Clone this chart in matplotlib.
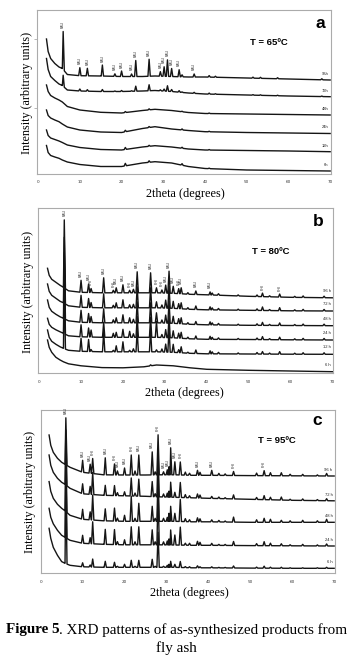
import numpy as np
import matplotlib.pyplot as plt

W, H = 357, 659

# shared x anchors (2theta) where the background of every pattern was read
anchor = [2, 2.4, 3, 4, 5, 5.8, 7, 10, 15, 20, 25, 28, 32, 36, 40, 50, 60, 70]

# ---- panel a, T = 65 C
a_hours = ['96h', '72h', '48h', '24h', '12h', '6h']
a_base = [
    [134.5, 122, 115, 110, 106.5, 105, 99, 97.8, 97.5, 97, 97, 97.5, 97, 96.5, 96.5, 95.5, 94.5, 93.5],
    [115, 104, 97, 93, 89.5, 88, 83.5, 82.5, 82, 82, 82.5, 83, 82, 80.5, 79.5, 78.5, 77.5, 76.8],
    [88.5, 82, 78, 75.5, 73.5, 71.5, 67, 63.5, 61.2, 60.5, 63, 64.2, 63, 61, 60, 59.5, 59, 58.5],
    [63.5, 58, 55.5, 53.5, 51.8, 49.5, 46.5, 43.5, 41.5, 41, 45, 46.8, 44.5, 43, 41.8, 41, 40.5, 40],
    [43.5, 38, 35.5, 34, 32.5, 31, 28.5, 26, 24, 23.5, 26.5, 27.8, 26.5, 24.5, 23.5, 23, 22.5, 21.8],
    [28, 21, 18, 16.5, 15.2, 13.5, 11.5, 9, 7, 7, 10.5, 11.8, 10.5, 7, 5, 3.5, 3, 2.5],
]
a_peaks = [6.0, 10.0, 11.8, 15.4, 18.4, 20.0, 20.9, 22.4, 23.4, 26.6, 29.3, 30.2,
           31.0, 32.0, 33.8, 34.5, 37.4, 41.0, 42.5, 51.5, 53.3, 57.4, 68.0]
a_heights = [
    [38, 8, 7.5, 11, 2.5, 5.5, 0, 2.5, 16, 17, 4.5, 9.5, 16.5, 8, 7, 2, 3, 1.5, 1, 1, 1, 1, 1],
    [11, 2, 1.5, 2, 0.5, 1, 0, 0.5, 5, 6, 1, 2, 5.5, 2, 1.5, 0.5, 1, 1, 0.5, 0.5, 0.5, 0.5, 0.5],
    [0, 0, 0, 0, 0, 0, 1, 0, 0, 1, 0, 0, 0, 0, 0, 0.5, 0, 0.5, 0, 0, 0, 0, 0],
    [0, 0, 0, 0, 0, 0, 1.5, 0, 0, 1, 0, 0, 0, 0, 0, 1, 0, 0.5, 0, 0, 0, 0, 0],
    [0, 0, 0, 0, 0, 0, 2, 0, 0, 1, 0, 0, 0, 0, 0, 1, 0, 0.5, 0, 0, 0, 0, 0],
    [0, 0, 0, 0, 0, 0, 2.5, 0, 0, 1.5, 0, 0, 0, 0, 0, 1.5, 0, 0.5, 0, 0, 0, 0, 0],
]
a_fau = [6.0, 10.0, 11.8, 15.4, 18.4, 20.0, 22.4, 23.4, 26.6, 29.3, 30.2, 31.0, 32.0, 33.8, 37.4]
a_phi = []

# ---- panel b, T = 80 C
b_hours = ['96 h', '72 h', '48 h', '24 h', '12 h', '6 h']
b_base = [
    [105, 98, 94, 91, 88, 86, 82.5, 81, 80.5, 80.5, 80.5, 80.5, 80, 79, 78.5, 77, 76, 75.5],
    [89.3, 82, 78, 75, 72, 70.5, 67.5, 66, 65.5, 65.5, 65.5, 65.5, 65, 64, 63.5, 63, 62.5, 62.3],
    [73.3, 66, 62, 59, 56.5, 55, 52.5, 51, 50.5, 50.5, 50.5, 50.5, 50, 49, 48.5, 48, 47.8, 47.6],
    [55, 49, 46, 43.5, 41.5, 40, 37.5, 36.5, 36, 36, 36, 36, 35.5, 34.5, 34, 33.8, 33.5, 33.3],
    [43.3, 36, 32, 29, 26.5, 25, 23, 22, 21.5, 21.5, 21.5, 21.5, 21, 20, 19.5, 19.3, 19.1, 19],
    [33.3, 26, 21, 16, 13.3, 11.5, 9.5, 7.5, 5.7, 5.5, 6.5, 8.3, 7.5, 5.5, 4, 3, 2.3, 1.6],
]
b_peaks = [6.0, 10.0, 11.8, 12.4, 15.4, 17.7, 18.4, 20.0, 21.6, 22.5, 23.4, 26.6, 28.0, 29.3,
           30.2, 31.0, 32.0, 33.3, 33.9, 35.5, 37.4, 40.8, 41.3, 42.8, 47.5, 52.0, 53.3, 55.0,
           57.4, 61.0, 63.0, 68.0]
b_heights = [
    [68, 12, 8.5, 4, 15, 2.5, 5, 8, 2.5, 3.5, 21, 20, 5, 3, 8, 22, 7, 5, 6, 1.5, 3.5, 3, 2, 1.5, 1, 1.5, 3.5, 1, 3, 1, 1.5, 1.5],
    [66, 12, 9, 5, 14, 2.5, 5, 8, 3, 3.5, 21, 20, 6, 3, 8, 22, 7, 5, 6, 1.5, 3.5, 3, 2, 1.5, 1, 1.5, 3.5, 1, 3, 1, 1.5, 1.5],
    [66, 12, 9, 6, 14, 3, 5, 8, 5, 3.5, 21, 20, 10, 3, 8, 22, 7, 5, 6, 1.5, 3, 3, 2, 1.5, 1, 1.5, 3, 1, 2.5, 1, 1.5, 1.5],
    [68, 12, 9, 7, 15, 4, 5, 8, 6, 3.5, 21, 20, 16, 3, 8, 22, 7, 5, 6, 1.5, 3, 3, 2, 1.5, 1, 1.5, 3, 1, 2.5, 1, 1.5, 1.5],
    [70, 13, 12, 2, 20, 1.5, 6, 10, 1.5, 3, 22, 22, 2, 3, 8, 24, 8, 3, 6, 1, 3.5, 3, 2, 1.5, 1, 1.5, 2.5, 1, 2.5, 1, 1.5, 1.5],
    [0, 0, 0, 0, 0, 0, 0, 0, 0, 0, 0, 1, 0, 0, 0, 0, 0, 0, 0, 0, 0, 0, 0, 0, 0, 0, 0, 0, 0, 0, 0, 0],
]
b_fau = [6.0, 10.0, 11.8, 15.4, 18.4, 20.0, 22.5, 23.4, 26.6, 30.2, 31.0, 32.0, 33.9, 37.4, 40.8]
b_phi = [12.4, 17.7, 21.6, 28.0, 29.3, 33.3, 53.3, 57.4]

# ---- panel c, T = 95 C
c_hours = ['96 h', '72 h', '48 h', '24 h', '6 h']
c_base = [
    [138.3, 128, 121, 115, 111, 109, 106, 101, 98.5, 98.3, 98.3, 98.5, 98.5, 98, 98, 97.7, 97.5, 97.3],
    [118.3, 108, 101, 95, 91, 89, 85, 79.5, 78, 77.5, 77, 76.5, 76, 75.5, 75, 74, 73, 72.5],
    [91.7, 82, 75, 69, 65, 62.5, 58, 54, 52.5, 52, 52, 52, 52, 51.5, 51.5, 51, 51, 51],
    [65, 56, 49.5, 43, 38, 36, 33, 30, 29, 28.5, 28.5, 28.5, 28.3, 28, 28, 27.7, 27.5, 27.3],
    [45, 35, 26, 18, 11.7, 10, 8, 6.5, 6, 6, 6, 6, 6, 5.5, 5.5, 5.2, 5, 5],
]
c_peaks = [6.0, 10.0, 11.8, 12.4, 15.4, 17.6, 18.3, 20.0, 21.6, 22.5, 23.4, 26.6, 27.3, 28.0,
           29.3, 30.2, 30.6, 31.0, 32.0, 33.3, 34.5, 35.5, 37.4, 38.0, 40.8, 42.5, 44.0, 46.0,
           51.5, 53.3, 54.8, 57.4, 59.5, 62.5, 66.0, 68.2]
c_heights = [
    [47, 12, 9, 15, 17, 11, 4, 7, 20, 4, 20, 23, 3, 40, 3, 5, 8, 27, 13, 13, 3, 2, 5, 3, 5, 2, 1.5, 4, 2.5, 5, 3, 3, 1.5, 1.5, 1, 2.5],
    [55, 10, 8, 22, 10, 10, 3, 4, 18, 3, 17, 15, 3, 45, 3, 4, 6, 15, 5, 15, 3, 2, 4, 3, 2, 1.5, 1, 4, 2, 4, 2.5, 3, 1, 1.5, 1, 2],
    [65, 10, 8, 25, 12, 13, 3, 6, 25, 3, 18, 15, 3, 50, 3, 4, 8, 15, 8, 22, 3, 2, 4, 3, 2, 1.5, 1, 5, 2.5, 4, 3, 2, 1.5, 2, 1.5, 3],
    [75, 8, 6, 22, 15, 15, 3, 5, 18, 3, 18, 15, 3, 55, 3, 4, 6, 15, 10, 18, 2, 2, 4, 3, 2, 1, 1, 4, 2, 4, 2.5, 2, 1, 1.5, 1, 2],
    [80, 4, 2, 8, 6, 5, 1, 3, 7, 1, 7, 8, 1, 35, 1, 2, 3, 6, 3, 6, 1, 1, 2, 1, 1, 0.5, 0.5, 2, 1, 2, 1, 1, 0.5, 0.5, 0.5, 1],
]
c_fau = [6.0, 10.0, 11.8, 15.4, 18.3, 20.0, 23.4, 26.6, 29.3, 30.2, 31.0, 32.0, 37.4, 40.8]
c_phi = [12.4, 17.6, 21.6, 28.0, 33.3, 46.0, 53.3]

temps = ['T = 65ºC', 'T = 80ºC', 'T = 95ºC']
letters = ['a', 'b', 'c']

SERIF = ['Liberation Serif', 'DejaVu Serif']
SANS = ['Liberation Sans', 'DejaVu Sans']
FRAME = '#ababab'
INK = '#151515'


def pattern(base, peaks, heights, w=0.28):
    xs = list(anchor)
    for p, h in zip(peaks, heights):
        if h > 0:
            xs += [p - w, p, p + w]
    xs = np.unique(xs)
    ys = np.interp(xs, anchor, base)
    for p, h in zip(peaks, heights):
        if h > 0:
            ys[xs == p] += h
    return xs, ys


fig = plt.figure(figsize=(W / 100, H / 100), dpi=100)

# axes boxes in pixels: left, right, top, bottom
boxes = [(37.3, 331, 10, 173.5), (38.3, 333.3, 208, 373.3), (40.7, 335, 410, 573.3)]
panels = [
    (a_hours, a_base, a_peaks, a_heights, a_fau, a_phi),
    (b_hours, b_base, b_peaks, b_heights, b_fau, b_phi),
    (c_hours, c_base, c_peaks, c_heights, c_fau, c_phi),
]
ylab_pos = [(27, 93.3), (28.3, 292.3), (30, 491.7)]
xlab_pos = [(185, 194), (184, 392.7), (189, 592.7)]
letter_pos = [(320, 24), (318, 221.7), (317, 420.7)]
temp_pos = [(250, 42.7), (252, 251.7), (258, 440.7)]
hour_dy = [6, 7, 6]

for i, (l, r, t, b) in enumerate(boxes):
    hours, bases, peaks, heights, fau, phi = panels[i]
    ax = fig.add_axes([l / W, 1 - b / H, (r - l) / W, (b - t) / H])
    ax.set_xlim(-0.2 if i < 2 else 0, 70.2)
    ax.set_ylim(0, b - t)
    for s in ax.spines.values():
        s.set_color(FRAME)
        s.set_linewidth(0.8)

    for base, hts in zip(bases, heights):
        xs, ys = pattern(base, peaks, hts)
        ax.plot(xs, ys, color=INK, lw=1.0)

    # peak labels above the top pattern
    top_b, top_h = bases[0], heights[0]
    for name, lst in (('FAU', fau), ('PHI', phi)):
        for p in lst:
            yb = np.interp(p, anchor, top_b) + top_h[peaks.index(p)]
            ax.text(p, yb + 3.5, name, rotation=90, ha='center', va='bottom',
                    fontsize=2.7, family=SANS, color='#333333')

    # hour labels at the right end of each pattern
    for name, base in zip(hours, bases):
        ax.text(69.6, base[-1] + hour_dy[i], name, ha='right', va='center',
                fontsize=3, family=SANS, color='#222222')

    ax.set_xticks(range(0, 71, 10))
    ax.tick_params(axis='x', length=0, pad=5, labelsize=3, colors='#333333')
    if i == 0:
        ax.set_yticks([134.2, 65.2])
        ax.tick_params(axis='y', length=2, width=0.6, color=FRAME, labelleft=False)
    else:
        ax.set_yticks([])

    fig.text(ylab_pos[i][0] / W, 1 - ylab_pos[i][1] / H, 'Intensity (arbitrary units)',
             rotation=90, ha='center', va='center', fontsize=8.7, family=SERIF)
    fig.text(xlab_pos[i][0] / W, 1 - xlab_pos[i][1] / H, '2theta (degrees)',
             ha='center', va='center', fontsize=8.8, family=SERIF)
    fig.text(letter_pos[i][0] / W, 1 - letter_pos[i][1] / H, letters[i],
             ha='center', va='center', fontsize=12.5, weight='bold', family=SANS)
    fig.text(temp_pos[i][0] / W, 1 - temp_pos[i][1] / H, temps[i],
             ha='left', va='center', fontsize=6.8, weight='bold', family=SANS)

# caption, bold figure number followed by plain text, centred as one line
rend = fig.canvas.get_renderer()
cy = 1 - 630 / H
t1 = fig.text(0, cy, 'Figure 5', weight='bold', fontsize=10.9, family=SERIF, va='center')
t2 = fig.text(0, cy, '. XRD patterns of as-synthesized products from', fontsize=10.9,
              family=SERIF, va='center')
w1 = t1.get_window_extent(rend).width
w2 = t2.get_window_extent(rend).width
x0 = 176.7 - (w1 + w2) / 2
t1.set_x(x0 / W)
t2.set_x((x0 + w1) / W)
fig.text(176.7 / W, 1 - 648 / H, 'fly ash', ha='center', va='center', fontsize=10.9, family=SERIF)

fig.savefig('out.png', dpi=100)
